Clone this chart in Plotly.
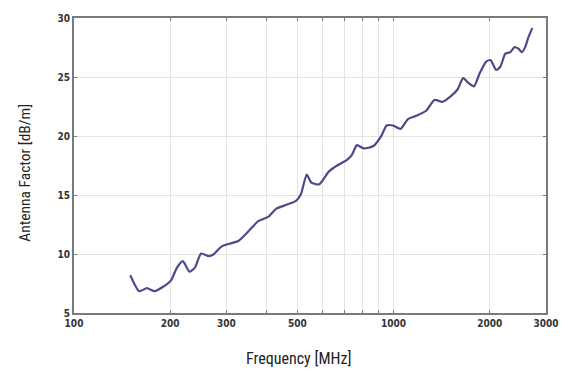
import plotly.graph_objects as go
import math

freq_mhz = [150, 160, 169, 179, 189, 201, 210, 219, 230, 239, 250, 264, 273, 290, 311, 327,
            351, 377, 405, 429, 461, 495, 513, 535, 553, 585, 628, 666, 715, 741, 768, 806,
            865, 918, 951, 997, 1051, 1110, 1179, 1265, 1343, 1425, 1512, 1586, 1651, 1715,
            1786, 1859, 1950, 2011, 2094, 2159, 2238, 2319, 2391, 2460, 2521, 2581, 2642, 2719]
af_dbm = [8.2, 6.85, 7.1, 6.85, 7.18, 7.74, 8.85, 9.4, 8.5, 8.85, 10.04, 9.82, 9.96, 10.65, 10.92, 11.1,
          11.9, 12.78, 13.14, 13.83, 14.16, 14.5, 15.07, 16.73, 16.05, 15.9, 17.0, 17.5, 17.98, 18.4, 19.23, 18.95,
          19.15, 20.06, 20.89, 20.89, 20.6, 21.44, 21.72, 22.14, 23.05, 22.9, 23.38, 23.94, 24.9, 24.5,
          24.2, 25.3, 26.3, 26.43, 25.6, 25.87, 26.98, 27.1, 27.53, 27.4, 27.1, 27.53, 28.36, 29.14]

x_tickvals = [100, 200, 300, 400, 500, 600, 700, 800, 900, 1000, 2000, 3000]
x_ticktext = ["100", "200", "300", "", "500", "", "", "", "", "1000", "2000", "3000"]
y_tickvals = [5, 10, 15, 20, 25, 30]

TICKFONT = "DejaVu Sans Condensed, Roboto, sans-serif"
TITLEFONT = "Roboto Condensed, DejaVu Sans Condensed, Roboto, sans-serif"

fig = go.Figure()
fig.add_trace(go.Scatter(x=freq_mhz, y=af_dbm, mode="lines",
                         line=dict(color="#4b4b8c", width=2.2, shape="spline", smoothing=0.6),
                         showlegend=False, hoverinfo="skip"))

fig.update_layout(
    width=571, height=372,
    margin=dict(l=74, r=20, t=12, b=59),
    paper_bgcolor="white", plot_bgcolor="white",
    font=dict(family=TICKFONT, color="#222"),
    xaxis=dict(type="log", range=[2, math.log10(3000)],
               tickvals=x_tickvals, ticktext=x_ticktext,
               showgrid=True, gridcolor="#e4e4e4", gridwidth=1,
               showline=True, linecolor="#7a7a7a", linewidth=2, mirror="ticks",
               ticks="inside", ticklen=3, tickcolor="#7a7a7a",
               tickfont=dict(family=TICKFONT, size=10, color="#333", weight="bold"),
               zeroline=False),
    yaxis=dict(range=[5, 30], tickvals=y_tickvals,
               showgrid=True, gridcolor="#e4e4e4", gridwidth=1,
               showline=True, linecolor="#7a7a7a", linewidth=2, mirror="ticks",
               ticks="inside", ticklen=3, tickcolor="#7a7a7a",
               tickfont=dict(family=TICKFONT, size=10, color="#333", weight="bold"),
               zeroline=False),
    annotations=[
        dict(text="Frequency [MHz]", xref="paper", yref="paper", x=0.475, y=-0.155,
             xanchor="center", yanchor="middle", showarrow=False,
             font=dict(family=TITLEFONT, size=16, color="#222")),
        dict(text="Antenna Factor [dB/m]", xref="paper", yref="paper", x=-0.104, y=0.475,
             xanchor="center", yanchor="middle", showarrow=False, textangle=-90,
             font=dict(family=TITLEFONT, size=15.5, color="#222")),
    ],
)

fig.write_html("out.html", config={"displayModeBar": False},
               post_script="document.body.style.margin='0';")
